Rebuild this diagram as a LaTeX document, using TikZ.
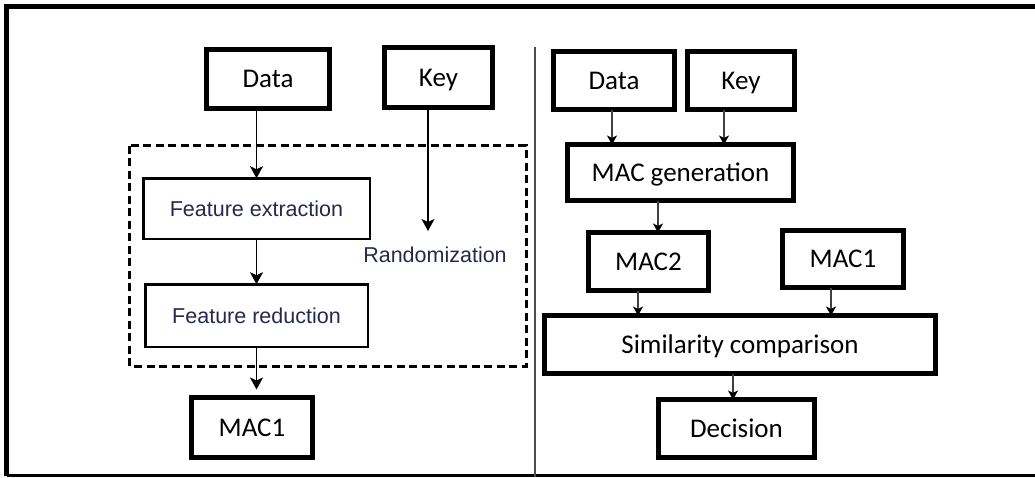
\documentclass[tikz,border=0pt]{standalone}
\usepackage{fontspec}
\setmainfont{Carlito}
\newfontfamily\arialf{Liberation Sans}
\usetikzlibrary{arrows.meta}
\definecolor{inktxt}{RGB}{38,40,78}
\tikzset{
  x=1pt, y=-1pt,
  thickbox/.style={draw=black, line width=4.5pt, fill=white, inner sep=0pt, outer sep=0pt, font=\fontsize{27}{30}\selectfont, text height=17.5pt, text depth=0pt},
  thinbox/.style={draw=black, line width=2.5pt, fill=white, inner sep=0pt, outer sep=0pt, text=inktxt, font=\arialf\fontsize{21.5}{24}\selectfont, text height=15.5pt, text depth=0pt},
  arr/.style={draw=black, line width=1.8pt, -{Stealth[length=12pt,width=13pt,inset=3pt]}},
  arrs/.style={draw=black!75, line width=1.5pt, -{Stealth[length=9pt,width=10pt,inset=2.5pt,color=black]}},
}
\begin{document}
\begin{tikzpicture}
\useasboundingbox (0,0) rectangle (1035,477);
\clip (0,0) rectangle (1035,477);
% outer frame (right side lies beyond the picture)
\draw[line width=5pt] (1045,6.5) -- (6.5,6.5) -- (6.5,475.5);
\draw[line width=3.5pt] (6.5,475.5) -- (1045,475.5);
% divider
\draw[line width=1.6pt, black!70] (535,47) -- (535,477);

% ---------- left panel ----------
\draw[line width=3pt, dash pattern=on 8pt off 4.5pt] (129.5,145.5) rectangle (526,366);
\node[thickbox, minimum width=123pt, minimum height=59pt] (dataL) at (268,79) {Data};
\node[thickbox, minimum width=108pt, minimum height=60pt] (keyL) at (438.5,77.5) {Key};
\node[thinbox, minimum width=226.5pt, minimum height=60.5pt] (fe) at (256.5,208.5) {Feature extraction};
\node[thinbox, minimum width=222.5pt, minimum height=62.5pt] (fr) at (256.5,315.5) {Feature reduction};
\node[thickbox, minimum width=121pt, minimum height=60pt] (mac1L) at (252,427.5) {MAC1};
\node[text=inktxt, font=\arialf\fontsize{21.5}{24}\selectfont, inner sep=0pt, text height=15.5pt, text depth=0pt] (rand) at (435,255) {Randomization};
\coordinate (randTip) at (428,231);

\draw[arr] (dataL.south -| fe.north) -- (fe.north);
\draw[arr] (keyL.south -| randTip) -- (randTip);
\draw[arr] (fe.south) -- (fr.north);
\draw[arr, shorten >=8pt] (fr.south) -- (fr.south |- mac1L.north);

% ---------- right panel ----------
\node[thickbox, minimum width=121pt, minimum height=58pt] (dataR) at (614,80.5) {Data};
\node[thickbox, minimum width=107pt, minimum height=58pt] (keyR) at (741,80.5) {Key};
\node[thickbox, minimum width=226pt, minimum height=56pt] (macgen) at (680.5,172.5) {MAC generation};
\node[thickbox, minimum width=120pt, minimum height=58pt] (mac2) at (648.5,261.5) {MAC2};
\node[thickbox, minimum width=121pt, minimum height=57pt] (mac1R) at (843,259) {MAC1};
\node[thickbox, minimum width=391pt, minimum height=58pt] (sim) at (740,344.5) {Similarity comparison};
\node[thickbox, minimum width=156pt, minimum height=58pt] (dec) at (736.5,428.5) {Decision};

\draw[arrs] ([xshift=-2pt]dataR.south) -- ([xshift=-2pt]dataR.south |- macgen.north);
\draw[arrs] ([xshift=-17pt]keyR.south) -- ([xshift=-17pt]keyR.south |- macgen.north);
\draw[arrs] ([xshift=-22.5pt]macgen.south) -- ([xshift=-22.5pt]macgen.south |- mac2.north);
\draw[arrs] ([xshift=-10.5pt]mac2.south) -- ([xshift=-10.5pt]mac2.south |- sim.north);
\draw[arrs] ([xshift=-12pt]mac1R.south) -- ([xshift=-12pt]mac1R.south |- sim.north);
\draw[arrs] ([xshift=-3.5pt]dec.north |- sim.south) -- ([xshift=-3.5pt]dec.north);
\end{tikzpicture}
\end{document}
